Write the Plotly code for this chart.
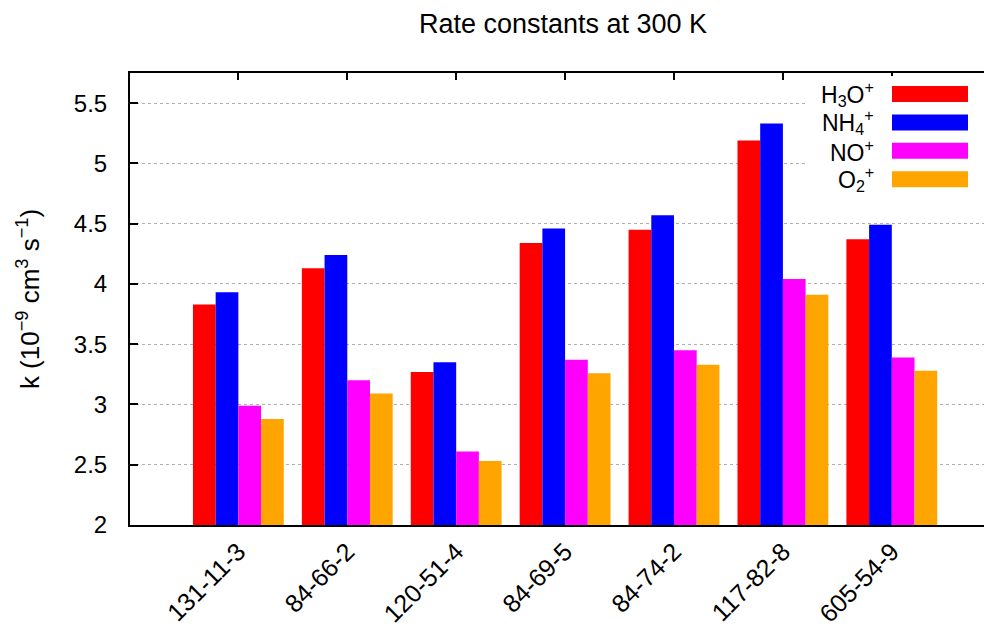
import plotly.graph_objects as go

categories = ["131-11-3", "84-66-2", "120-51-4", "84-69-5", "84-74-2", "117-82-8", "605-54-9"]
series_names = ["H<sub>3</sub>O<sup>+</sup>", "NH<sub>4</sub><sup>+</sup>", "NO<sup>+</sup>", "O<sub>2</sub><sup>+</sup>"]
series_colors = ["#ff0000", "#0000ff", "#ff00ff", "#ffa500"]
h3o = [3.83, 4.13, 3.27, 4.34, 4.45, 5.19, 4.37]
nh4 = [3.93, 4.24, 3.35, 4.46, 4.57, 5.33, 4.49]
no = [2.99, 3.20, 2.61, 3.37, 3.45, 4.04, 3.39]
o2 = [2.88, 3.09, 2.53, 3.26, 3.33, 3.91, 3.28]
series_values = [h3o, nh4, no, o2]
y_ticks = [2, 2.5, 3, 3.5, 4, 4.5, 5, 5.5]

FONT = "Liberation Sans, Arial, sans-serif"
OFF = 8  # page body margin
W, H = 984, 627
L, R, T, B = 122, 0, 65, 110
pw, ph = W - L - R, H - T - B

fig = go.Figure()
for name, color, vals in zip(series_names, series_colors, series_values):
    fig.add_trace(go.Bar(x=categories, y=vals, name=name, marker_color=color,
                         marker_line_width=0, showlegend=False))

# invisible trace to activate the mirrored top axis
fig.add_trace(go.Scatter(x=[None], y=[None], xaxis="x2", showlegend=False))

xrange = [-0.995, 6.92]
fig.update_layout(
    width=W, height=H, autosize=False,
    margin=dict(l=L, r=R, t=T, b=B, pad=0),
    paper_bgcolor="white", plot_bgcolor="white",
    font=dict(family=FONT, size=22, color="black"),
    title=dict(text="Rate constants at 300 K", x=(L + pw / 2 + 2) / W, xanchor="center",
               y=1 - (24 - OFF) / H, yanchor="middle", font=dict(size=27)),
    barmode="group", bargap=0.166, bargroupgap=0,
    xaxis=dict(type="category", range=xrange, showline=True, linecolor="black", linewidth=2,
               ticks="", tickangle=-45, tickfont=dict(size=25), showgrid=False,
               categoryorder="array", categoryarray=categories),
    xaxis2=dict(overlaying="x", side="top", range=xrange, showline=True, linecolor="black",
                linewidth=2, ticks="inside", ticklen=7, tickwidth=2, tickcolor="black",
                tickvals=list(range(len(categories))), showticklabels=False, showgrid=False,
                zeroline=False),
    yaxis=dict(range=[2, 5.75], tickvals=y_ticks, showline=True, linecolor="black", linewidth=2,
               ticks="inside", ticklen=8, tickwidth=2, tickcolor="black",
               showgrid=True, gridcolor="#b0b0b0", griddash="dot", gridwidth=1,
               zeroline=False, tickfont=dict(size=24), ticklabelstandoff=16,
               title=dict(text="k (10<sup>−9</sup> cm<sup>3</sup> s<sup>−1</sup>)",
                          font=dict(size=26), standoff=27)),
)

# gnuplot-style key: opaque box, right-aligned text, colour sample on the right
def px(x):
    return (x - OFF - L) / pw

def py(y):
    return (T + ph - (y - OFF)) / ph

fig.add_shape(type="rect", xref="paper", yref="paper", x0=px(806), x1=px(985),
              y0=py(192), y1=py(76), fillcolor="white", line_width=0, layer="above")
row0, dy = 94, 28.4
for i, (name, color) in enumerate(zip(series_names, series_colors)):
    yc = row0 + i * dy
    fig.add_shape(type="rect", xref="paper", yref="paper", x0=px(892), x1=px(968),
                  y0=py(yc + 8), y1=py(yc - 8), fillcolor=color, line_width=0, layer="above")
    fig.add_annotation(text=name, xref="paper", yref="paper", x=px(876), y=py(yc),
                       xanchor="right", yanchor="middle", showarrow=False,
                       font=dict(size=23, family=FONT))

fig.write_html("out.html")
